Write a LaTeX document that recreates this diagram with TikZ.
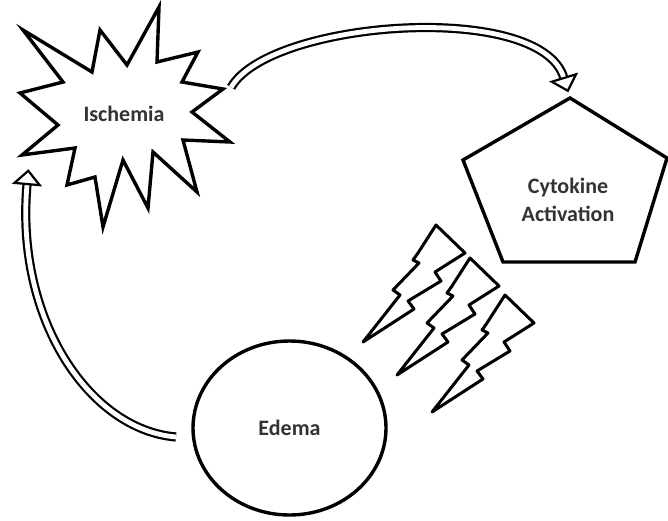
\documentclass[tikz,border=0pt]{standalone}
\usepackage{fontspec}
\setmainfont{Carlito}
\usetikzlibrary{arrows.meta,shapes.geometric}

\begin{document}
\begin{tikzpicture}[
    x=0.5pt, y=-0.5pt,
    every node/.style={font=\fontsize{11}{14}\selectfont\bfseries, text=black!80, align=center},
    outline/.style={draw=black, line width=1.7pt, line join=miter, fill=white},
    bolt/.style={draw=black, line width=1.5pt, line join=round, fill=white},
    hollow/.style={draw=black, double=white, line width=1.1pt, double distance=2.4pt,
                   -{Triangle[open, length=8pt, width=15pt]}},
  ]
  \useasboundingbox (0,0) rectangle (668,520);

  % Ischemia burst
  \draw[outline] (159,7) -- (157,62) -- (198,52) -- (182,82) -- (223,89) -- (192,112)
    -- (230,142) -- (183,140) -- (197,192) -- (153,152) -- (148,208) -- (123,160)
    -- (103,227) -- (95,177) -- (67,185) -- (75,148) -- (22,155) -- (58,125)
    -- (20,93) -- (63,82) -- (23,30) -- (92,72) -- (100,30) -- (127,65) -- cycle;
  \node[circle, minimum size=110pt] (isch) at (124,114) {Ischemia};

  % Cytokine pentagon
  \draw[outline] (570,98) coordinate (ctop) -- (667,158) -- (635,262) -- (503,262)
    -- (463,160) -- cycle;
  \node (cyto) at (568,200) {Cytokine\\Activation};

  % Edema
  \node[outline, ellipse, minimum width=96.5pt, minimum height=87pt, inner sep=0pt]
    (edema) at (289.5,428) {Edema};

  % bolts
  \foreach \dx/\dy in {0/0, 34/33, 69/70}
    \draw[bolt, shift={(\dx,\dy)}] (436,225) -- (465,253) -- (435,272) -- (441,281)
      -- (408,301) -- (414,309) -- (363,342) -- (400,295) -- (393,290) -- (419,263)
      -- (413,260) -- (418,253) -- cycle;

  % cycle arrows
  \draw[hollow, shorten >=3pt] (isch.14) .. controls (270,20) and (540,0) .. (ctop);
  \draw[hollow, shorten <=8pt] (edema.186) .. controls (90,430) and (15,320) .. (isch.210);
\end{tikzpicture}
\end{document}
